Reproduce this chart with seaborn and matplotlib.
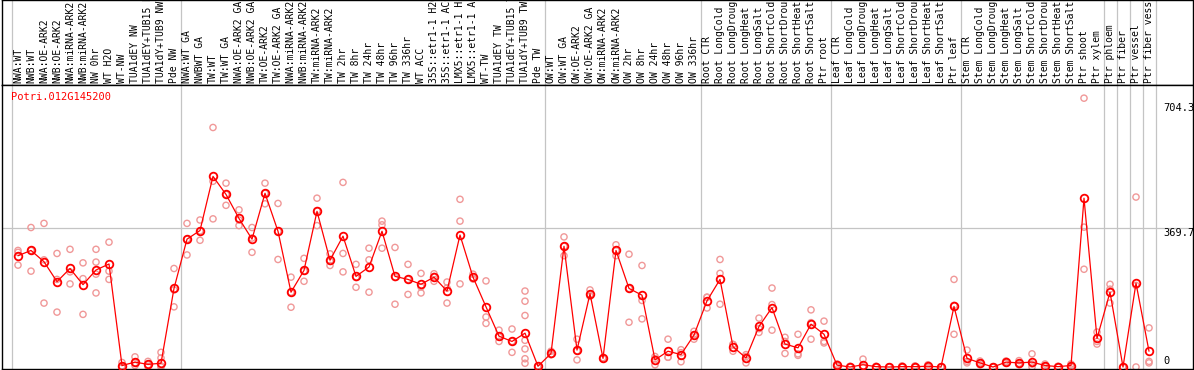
import numpy as np
import pandas as pd
import matplotlib
matplotlib.use("Agg")
import matplotlib.pyplot as plt
import seaborn as sns

# Data
gene = "Potri.012G145200"
samples = [
    "NWA:WT", "NWB:WT", "NWA:OE-ARK2", "NWB:OE-ARK2", "NWA:miRNA-ARK2", "NWB:miRNA-ARK2",
    "NW 0hr", "WT H2O", "WT-NW", "TUA1dEY NW", "TUA1dEY+TUB15 NW", "TUA1dY+TUB9 NW", "Pde NW",
    "NWA:WT GA", "NWBWT GA", "TW:WT", "TW:WT GA", "NWA:OE-ARK2 GA", "NWB:OE-ARK2 GA",
    "TW:OE-ARK2", "TW:OE-ARK2 GA", "NWA:miRNA-ARK2 GA", "NWB:miRNA-ARK2 GA", "TW:miRNA-ARK2",
    "TW:miRNA-ARK2", "TW 2hr", "TW 8hr", "TW 24hr", "TW 48hr", "TW 96hr", "TW 336hr", "WT ACC",
    "35S::etr1-1 H2O", "35S::etr1-1 ACC", "LMX5::etr1-1 H2O", "LMX5::etr1-1 ACC", "WT-TW",
    "TUA1dEY TW", "TUA1dEY+TUB15 TW", "TUA1dY+TUB9 TW", "Pde TW",
    "OW:WT", "OW:WT GA", "OW:OE-ARK2", "OW:OE-ARK2 GA", "OW:miRNA-ARK2", "OW:miRNA-ARK2",
    "OW 2hr", "OW 8hr", "OW 24hr", "OW 48hr", "OW 96hr", "OW 336hr",
    "Root CTR", "Root LongCold", "Root LongDrought", "Root LongHeat", "Root LongSalt",
    "Root ShortCold", "Root ShortDrought", "Root ShortHeat", "Root ShortSalt", "Ptr root",
    "Leaf CTR", "Leaf LongCold", "Leaf LongDrought", "Leaf LongHeat", "Leaf LongSalt",
    "Leaf ShortCold", "Leaf ShortDrought", "Leaf ShortHeat", "Leaf ShortSalt", "Ptr leaf",
    "Stem CTR", "Stem LongCold", "Stem LongDrought", "Stem LongHeat", "Stem LongSalt",
    "Stem ShortCold", "Stem ShortDrought", "Stem ShortHeat", "Stem ShortSalt", "Ptr shoot",
    "Ptr xylem", "Ptr phloem", "Ptr fiber", "Ptr vessel", "Ptr fiber vessel",
]
mean_expr = [
    296, 310, 280, 227, 262, 219, 258, 274, 4, 13, 7, 10, 209, 340,
    363, 507, 459, 395, 340, 462, 361, 199, 257, 414, 284, 348, 241, 266, 361,
    241, 233, 220, 239, 202, 351, 239, 160, 82, 68, 90, 2,
    36, 321, 45, 195, 23, 310, 209, 191, 19, 42, 33, 85,
    176, 233, 54, 24, 108, 158, 61, 51, 114, 87,
    5, 0, 6, 1, 0, 1, 1, 2, 0, 161,
    23, 11, 0, 13, 11, 13, 4, 1, 4, 449, 76,
    199, 0, 223, 42,
]
replicates = [
    [310, 305, 271], [371, 310, 255], [382, 285, 170], [302, 233, 146], [313, 253, 221],
    [277, 235, 140], [313, 279, 247, 197], [332, 255, 233], [12, 3, 0], [27, 11, 4],
    [15, 6, 1], [39, 24, 3, 0], [262, 205, 160], [382, 340, 298],
    [391, 362, 337], [637, 494, 394], [489, 459, 430], [418, 391, 376], [371, 343, 305],
    [489, 462, 434], [435, 361, 286], [239, 199, 159], [289, 255, 228], [449, 416, 376],
    [301, 281, 270], [491, 302, 253], [273, 238, 212], [316, 285, 199], [388, 378, 316],
    [318, 238, 167], [273, 233, 193], [249, 213, 197], [248, 241, 228], [226, 210, 170],
    [446, 388, 221], [247, 237, 234], [229, 133, 116], [98, 80, 68], [101, 68, 39],
    [202, 175, 137, 71, 48, 22, 10], [3, 1, 0],
    [42, 33, 33], [346, 321, 296], [74, 43, 19], [205, 193, 188], [25, 22, 22],
    [325, 310, 296], [300, 209, 119], [270, 177, 128], [28, 22, 6], [74, 26, 26],
    [46, 38, 14], [95, 86, 74],
    [186, 185, 157], [286, 249, 167], [60, 60, 42], [33, 28, 11], [130, 102, 92],
    [210, 166, 98], [79, 68, 36], [87, 35, 31], [152, 118, 74], [122, 68, 64],
    [8, 5, 2], [2, 0, 0], [21, 0, 0], [2, 0, 0], [0, 0, 0], [3, 0, 0], [3, 1, 0],
    [6, 0, 0], [0, 0, 0], [233, 164, 87],
    [45, 15, 11], [16, 11, 6], [1, 0, 0], [16, 13, 10], [17, 10, 6], [35, 8, 0],
    [8, 3, 1], [2, 1, 0], [8, 4, 0], [715, 372, 260], [93, 68, 61],
    [220, 207, 170], [0, 0, 0], [452, 217, 0], [104, 15, 11],
]
# number of samples before each vertical separator
group_starts = [0, 13, 41, 53, 63, 73, 84, 85, 86, 87, 88]
scale_marks = [0, 369.7, 704.3]

sns.set_theme(style="white")
plt.rcParams["font.family"] = ["DejaVu Sans Mono"]

rep_df = pd.DataFrame(
    [(i, v) for i, reps in enumerate(replicates) for v in reps], columns=["pos", "expr"]
)
mean_df = pd.DataFrame({"pos": np.arange(len(samples)), "expr": mean_expr})

W, H = 1194, 370
fig = plt.figure(figsize=(W / 100, H / 100), dpi=100)
ax_lab = fig.add_axes([1.5 / W, (H - 85) / H, 1191 / W, 85 / H])
ax = fig.add_axes([1.5 / W, 1 / H, 1191 / W, 284 / H])

# pixel x = 18 + 13 * index
xlim = ((1.5 - 18) / 13, (1192.5 - 18) / 13)
for a in (ax, ax_lab):
    a.set_xlim(*xlim)
    a.set_xticks([])
    a.set_yticks([])
    a.set_xlabel("")
    a.set_ylabel("")
    for s in a.spines.values():
        s.set_color("black")
        s.set_linewidth(1.0)
    for g in group_starts:
        a.axvline(g - 0.5, color="#c4c4c4", lw=0.9, zorder=0)

ax.set_ylim(-5.3, 750)
ax.axhline(scale_marks[1], color="#c4c4c4", lw=0.9, zorder=0)

sns.scatterplot(data=rep_df, x="pos", y="expr", marker="o", s=20,
                facecolor="none", edgecolor="#f09898", linewidth=1.0,
                ax=ax, zorder=2, legend=False)
sns.lineplot(data=mean_df, x="pos", y="expr", color="#ff0000", lw=0.9,
             marker="o", markersize=5.5, markerfacecolor="none",
             markeredgecolor="#ff0000", markeredgewidth=1.3, ax=ax, zorder=3)
ax.set_xlabel("")
ax.set_ylabel("")

# sample labels
ax_lab.set_ylim(0, 85)
for i, name in enumerate(samples):
    ax_lab.text(i, 2, name, rotation=90, ha="center", va="bottom",
                fontsize=7, color="black", clip_on=True)

# scale labels on the right
xr = (1163 - 18) / 13
for v in scale_marks:
    label = "0" if v == 0 else f"{v:.1f}"
    ax.text(xr, v + (2 if v == 0 else -1), label, ha="left",
            va="bottom" if v == 0 else "top", fontsize=7.5, color="black")

ax.text(9 / 1191, 1 - 12 / 284, gene, transform=ax.transAxes, ha="left",
        va="center", fontsize=7.5, color="#ff0000")

fig.savefig("out.png", dpi=100)
